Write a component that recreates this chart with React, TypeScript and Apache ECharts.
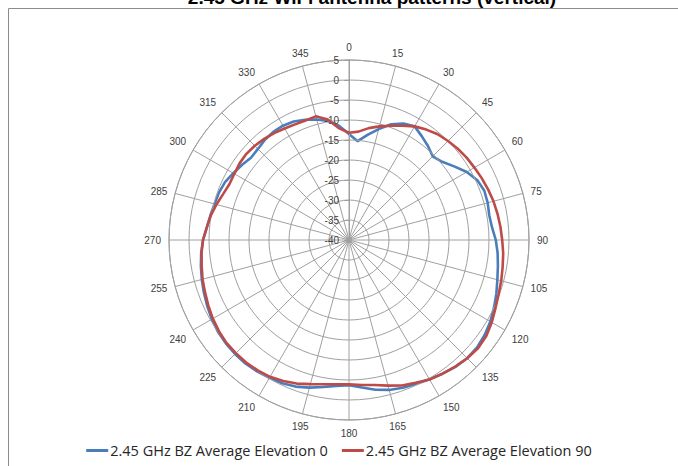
import React, { useEffect, useRef } from "react";
import * as echarts from "echarts";

const chartTitle = "2.45 GHz WiFi antenna patterns (vertical)";
const seriesNames = ["2.45 GHz BZ Average Elevation 0", "2.45 GHz BZ Average Elevation 90"];
const seriesColors = ["#4A7EBB", "#BE4B48"];

const angleTicks = [0, 15, 30, 45, 60, 75, 90, 105, 120, 135, 150, 165, 180, 195, 210, 225, 240, 255, 270, 285, 300, 315, 330, 345];
const radiusTicks = [-40, -35, -30, -25, -20, -15, -10, -5, 0, 5];

const angles = [
  0, 5, 10, 15, 20, 25, 30, 35, 40, 45, 50, 55,
  60, 65, 70, 75, 80, 85, 90, 95, 100, 105, 110, 115,
  120, 125, 130, 135, 140, 145, 150, 155, 160, 165, 170, 175,
  180, 185, 190, 195, 200, 205, 210, 215, 220, 225, 230, 235,
  240, 245, 250, 255, 260, 265, 270, 275, 280, 285, 290, 295,
  300, 305, 310, 315, 320, 325, 330, 335, 340, 345, 350, 355,
];

const elevation0 = [
  -13.5, -15.2, -13.3, -11.3, -9.2, -7.9, -7.2, -8.3, -9.3, -10.4, -9.6, -7.9,
  -6.0, -4.6, -4.0, -4.1, -4.4, -4.1, -3.3, -2.7, -2.2, -1.6, -0.8, 0.0,
  0.8, 1.4, 1.8, 1.8, 1.4, 0.8, 0.2, -0.3, -0.7, -1.2, -2.0, -3.0,
  -3.7, -3.4, -2.7, -1.8, -1.0, -0.5, -0.2, 0.1, 0.3, 0.3, 0.2, 0.0,
  -0.4, -0.9, -1.4, -1.9, -2.4, -2.9, -3.5, -4.3, -4.8, -5.2, -5.4, -5.8,
  -6.6, -7.3, -8.0, -7.8, -7.3, -7.0, -7.0, -7.3, -8.0, -8.8, -9.8, -11.3,
];

const elevation90 = [
  -13.2, -12.8, -11.6, -10.6, -9.6, -8.5, -7.2, -6.3, -5.5, -5.0, -4.5, -4.1,
  -3.8, -3.4, -3.0, -2.6, -2.3, -2.0, -1.7, -1.3, -1.0, -0.6, -0.2, 0.4,
  1.2, 1.9, 2.1, 1.8, 1.3, 0.8, 0.3, -0.6, -1.3, -2.3, -3.2, -3.6,
  -3.9, -3.8, -3.4, -2.7, -1.8, -1.1, -0.5, -0.2, 0.0, 0.0, 0.0, -0.3,
  -0.7, -1.2, -1.7, -2.1, -2.6, -3.0, -3.5, -4.3, -4.9, -5.7, -6.5, -7.0,
  -6.9, -6.6, -6.5, -6.7, -7.0, -7.4, -7.8, -8.1, -8.2, -8.0, -9.4, -12.0,
];

function toPolar(values: number[]) {
  const pts = angles.map((a, i) => [values[i], a]);
  pts.push([values[0], 360]);
  return pts;
}

export default function App() {
  const ref = useRef<HTMLDivElement>(null);
  useEffect(() => {
    if (!ref.current) return;
    const chart = echarts.init(ref.current, undefined, { renderer: "svg" });
    const grid = "#A0A0A0";
    const labelFont = "'Liberation Sans', Arial, sans-serif";
    chart.setOption({
      animation: false,
      backgroundColor: "#ffffff",
      textStyle: { fontFamily: labelFont },
      polar: { center: [349, 240], radius: 180 },
      angleAxis: {
        type: "value",
        min: 0,
        max: 360,
        interval: 15,
        startAngle: 90,
        clockwise: true,
        axisLine: { show: true, lineStyle: { color: grid, width: 1 } },
        axisTick: { show: false },
        splitLine: { show: true, lineStyle: { color: grid, width: 1 } },
        axisLabel: {
          margin: 8,
          color: "#404040",
          fontSize: 10,
          fontFamily: labelFont,
          formatter: (v: number) => (angleTicks.indexOf(v) >= 0 ? String(v) : ""),
        },
      },
      radiusAxis: {
        type: "value",
        min: radiusTicks[0],
        max: radiusTicks[radiusTicks.length - 1],
        interval: 5,
        axisLine: { show: true, lineStyle: { color: grid, width: 1 } },
        axisTick: { show: true, length: 5, lineStyle: { color: grid } },
        splitLine: { show: true, lineStyle: { color: grid, width: 1 } },
        axisLabel: {
          margin: 10,
          color: "#404040",
          fontSize: 10,
          fontFamily: labelFont,
        },
        z: 3,
      },
      legend: {
        bottom: 3,
        left: "center",
        itemWidth: 22,
        itemHeight: 3,
        itemGap: 14,
        icon: "rect",
        textStyle: { fontSize: 14.5, color: "#262626", fontFamily: "'Open Sans', 'Noto Sans', sans-serif", padding: [0, 0, 0, -3] },
        data: seriesNames,
      },
      series: [
        {
          name: seriesNames[0],
          type: "line",
          coordinateSystem: "polar",
          data: toPolar(elevation0),
          symbol: "none",
          color: seriesColors[0],
          lineStyle: { width: 2.6, color: seriesColors[0] },
          z: 2,
        },
        {
          name: seriesNames[1],
          type: "line",
          coordinateSystem: "polar",
          data: toPolar(elevation90),
          symbol: "none",
          color: seriesColors[1],
          lineStyle: { width: 2.6, color: seriesColors[1] },
          z: 3,
        },
      ],
      graphic: [
        { type: "line", shape: { x1: 8.5, y1: 8.5, x2: 678, y2: 8.5 }, style: { stroke: "#8C8C8C", lineWidth: 1 } },
        { type: "line", shape: { x1: 8.5, y1: 8.5, x2: 8.5, y2: 466 }, style: { stroke: "#8C8C8C", lineWidth: 1 } },
        {
          type: "text",
          x: 372,
          y: 7,
          style: {
            text: chartTitle,
            fill: "#000000",
            font: "bold 19px 'Liberation Sans', Arial, sans-serif",
            textAlign: "center",
            textVerticalAlign: "bottom",
          },
        },
      ],
    });
    return () => chart.dispose();
  }, []);
  return <div ref={ref} style={{ position: "absolute", left: 0, top: 0, width: 678, height: 466 }} />;
}
